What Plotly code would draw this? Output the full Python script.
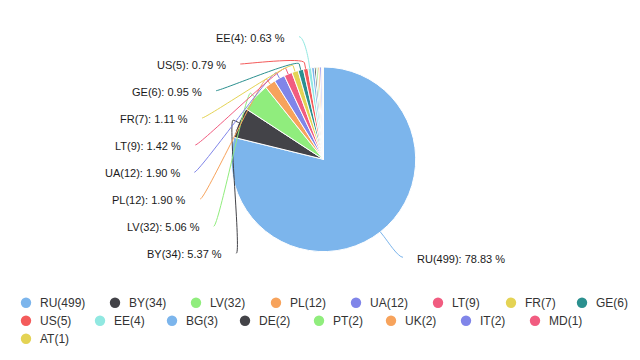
import math
import plotly.graph_objects as go

# ---- data ----
countries = ["RU", "BY", "LV", "PL", "UA", "LT", "FR", "GE", "US", "EE",
             "BG", "DE", "PT", "UK", "IT", "MD", "AT"]
counts = [499, 34, 32, 12, 12, 9, 7, 6, 5, 4, 3, 2, 2, 2, 2, 1, 1]
palette = ["#7cb5ec", "#434348", "#90ed7d", "#f7a35c", "#8085e9",
           "#f15c80", "#e4d354", "#2b908f", "#f45b5b", "#91e8e1"]

# ---- layout constants (pixels) ----
W, H = 640, 360
CX, CY, R = 323.4, 159.3, 92.3
FONT = "Liberation Sans, Arial, sans-serif"

# data-label anchors: country -> (x, y, side); left-side x is text right edge
label_pos = {
    "EE": (287, 37.7, "L"), "US": (228.3, 65, "L"), "GE": (204, 91.7, "L"),
    "FR": (190, 119, "L"), "LT": (183.3, 146, "L"), "UA": (182.3, 173.3, "L"),
    "PL": (188.3, 200, "L"), "LV": (201.7, 227.3, "L"), "BY": (224.3, 254.3, "L"),
    "RU": (415, 259.3, "R"),
}
# legend item circle centres (x) per row
legend_rows_x = [[26, 115, 196, 276, 356, 438, 511, 582],
                 [26, 100, 172, 245, 319, 391, 466, 535],
                 [26]]
legend_rows_y = [302.7, 320.7, 338.7]


def px(x):
    return x / W


def py(y):
    return 1 - y / H


colors = [palette[i % len(palette)] for i in range(len(countries))]
total = sum(counts)
legend_names = [f"{c}({n})" for c, n in zip(countries, counts)]

fig = go.Figure()
fig.add_trace(go.Pie(
    labels=countries, values=counts, sort=False, direction="clockwise",
    rotation=0, textinfo="none", hoverinfo="label+value+percent",
    marker=dict(colors=colors, line=dict(color="#ffffff", width=1)),
    domain=dict(x=[px(CX - R), px(CX + R)], y=[py(CY + R), py(CY - R)]),
    showlegend=False,
))

shapes = []
annotations = []

# data labels + connectors
cum = 0
for c, n, col in zip(countries, counts, colors):
    mid = (cum + n / 2) / total * 2 * math.pi
    cum += n
    if c not in label_pos:
        continue
    lx, ly, side = label_pos[c]
    pct = n / total * 100
    txt = f"{c}({n}): {pct:.2f} %"
    annotations.append(dict(
        x=px(lx), y=py(ly), xref="paper", yref="paper", text=txt,
        showarrow=False, xanchor="right" if side == "L" else "left",
        yanchor="middle", font=dict(family=FONT, size=11, color="#1a1a1a"),
    ))
    tx, ty = CX + R * math.sin(mid), CY - R * math.cos(mid)
    bx, by = CX + (R + 6) * math.sin(mid), CY - (R + 6) * math.cos(mid)
    if side == "L":
        sx, sy = lx + 12, ly - 1
        c1x = sx + 5
    else:
        sx, sy = lx - 12, ly - 2
        c1x = sx - 5
    c2x, c2y = 2 * bx - tx, 2 * by - ty
    path = (f"M {px(sx)},{py(sy)} C {px(c1x)},{py(sy)} {px(c2x)},{py(c2y)} "
            f"{px(bx)},{py(by)} L {px(tx)},{py(ty)}")
    shapes.append(dict(type="path", xref="paper", yref="paper", path=path,
                       line=dict(color=col, width=1)))

# legend (circle symbols + labels)
k = 0
for row_x, ry in zip(legend_rows_x, legend_rows_y):
    for cx in row_x:
        if k >= len(countries):
            break
        shapes.append(dict(type="circle", xref="paper", yref="paper",
                           x0=px(cx - 5.2), x1=px(cx + 5.2),
                           y0=py(ry + 5.2), y1=py(ry - 5.2),
                           fillcolor=colors[k], line=dict(width=0)))
        annotations.append(dict(
            x=px(cx + 12), y=py(ry), xref="paper", yref="paper",
            text=legend_names[k], showarrow=False, xanchor="left",
            yanchor="middle", font=dict(family=FONT, size=12, color="#333333"),
        ))
        k += 1

fig.update_layout(
    width=W, height=H, margin=dict(l=0, r=0, t=0, b=0),
    paper_bgcolor="#ffffff", plot_bgcolor="#ffffff",
    shapes=shapes, annotations=annotations, showlegend=False,
    font=dict(family=FONT),
)

fig.write_html(
    "out.html",
    config={"displayModeBar": False},
    post_script="document.body.style.margin='0';document.body.style.overflow='hidden';",
)
